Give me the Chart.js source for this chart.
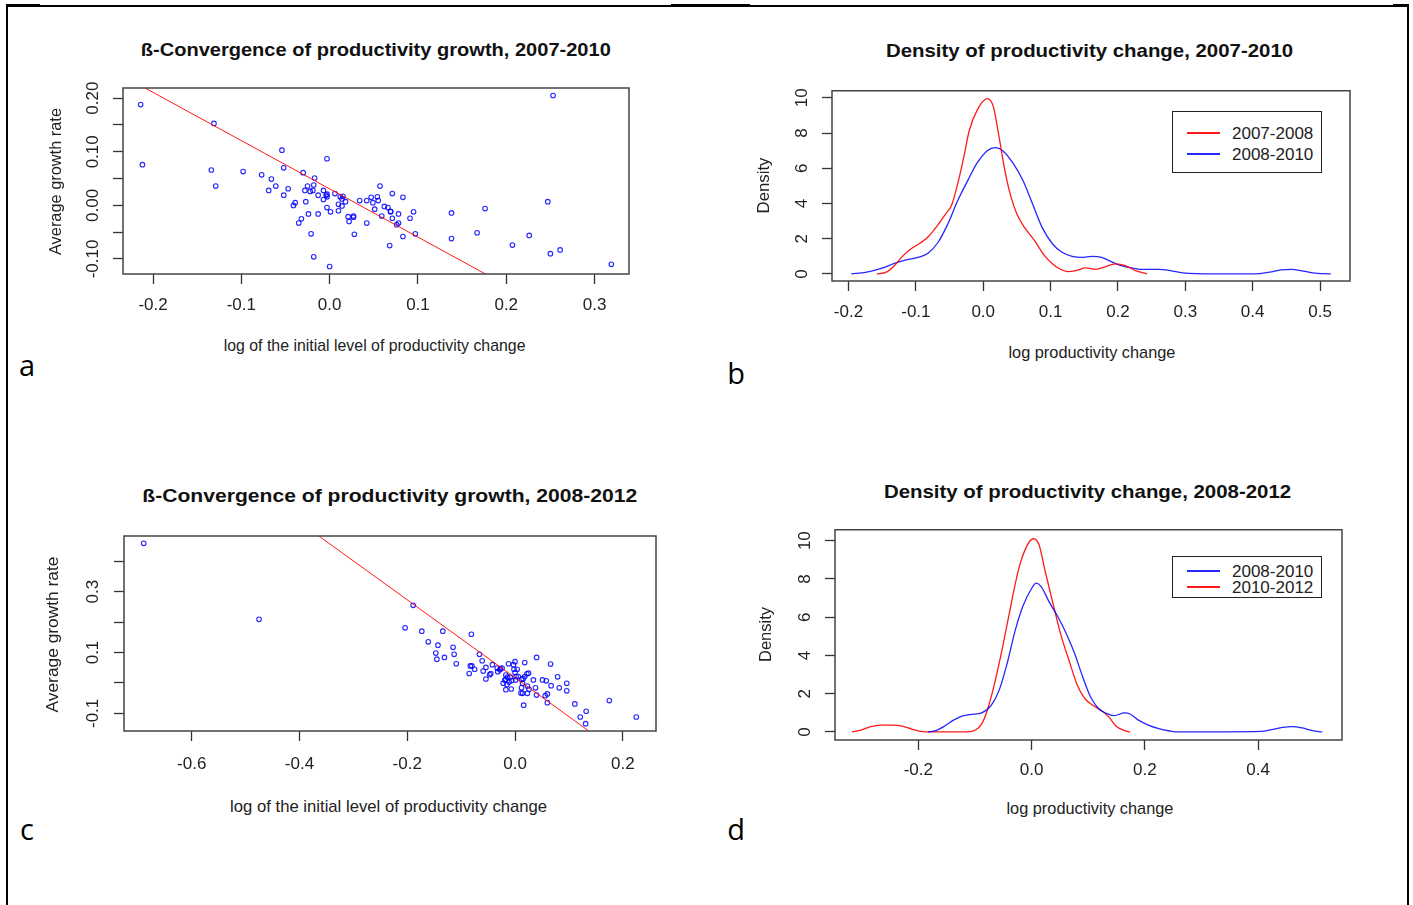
<!DOCTYPE html>
<html>
<head>
<meta charset="UTF-8" />
<title>Productivity convergence and density</title>
<style>
  html, body { margin: 0; padding: 0; background: #fff; }
  #page { position: relative; width: 1413px; height: 905px; overflow: hidden;
          font-family: "Liberation Sans", Arial, sans-serif; color: #222; }
  .frame { position: absolute; background: #000; }
  canvas { position: absolute; }
  .txt { position: absolute; white-space: nowrap; line-height: 1; transform-origin: 50% 50%; }
  .title { font-weight: bold; font-size: 19px; color: #111; }
  .axt { font-size: 17px; }
  .letter { font-family: "Open Sans", "Noto Sans", sans-serif; font-size: 29px; color: #000; }
  .legend { position: absolute; border: 1.5px solid #222; background: #fff; box-sizing: border-box; }
  .swatch { position: absolute; height: 1.4px; }
</style>
</head>
<body>
<div id="page">
  <div class="frame" style="left:6px;top:5px;width:1403px;height:1.5px"></div>
  <div class="frame" style="left:6px;top:4px;width:34px;height:3px"></div>
  <div class="frame" style="left:671px;top:4px;width:79px;height:3px"></div>
  <div class="frame" style="left:1393px;top:4px;width:16px;height:3px"></div>
  <div class="frame" style="left:6px;top:5px;width:2px;height:900px"></div>
  <div class="frame" style="left:1407px;top:5px;width:2px;height:900px"></div>
</div>
<script src="https://cdn.jsdelivr.net/npm/chart.js"></script>
<script>
// panel a: beta-convergence 2007-2010
const A_X = [-0.214,-0.212,-0.131,-0.134,-0.129,-0.098,-0.077,-0.066,-0.069,-0.061,
  -0.054,-0.052,-0.052,-0.047,-0.041,-0.039,-0.035,-0.032,-0.030,-0.028,
  -0.027,-0.025,-0.024,-0.022,-0.021,-0.019,-0.018,-0.017,-0.018,-0.013,
  -0.013,-0.007,-0.007,-0.004,-0.003,-0.003,-0.003,-0.003,0.000,0.001,
  0.006,0.010,0.010,0.012,0.014,0.015,0.014,0.018,0.021,0.022,
  0.027,0.027,0.028,0.034,0.042,0.042,0.047,0.049,0.051,0.054,
  0.055,0.057,0.059,0.062,0.066,0.068,0.069,0.069,0.071,0.071,
  0.076,0.078,0.078,0.083,0.083,0.091,0.095,0.097,0.138,0.138,
  0.167,0.176,0.207,0.226,0.247,0.250,0.253,0.261,0.319];
const A_Y = [0.188,0.076,0.153,0.066,0.036,0.063,0.057,0.049,0.028,0.036,
  0.103,0.070,0.019,0.031,0.000,0.005,-0.033,-0.025,0.061,0.028,
  0.007,0.036,-0.016,0.026,-0.053,0.028,0.038,0.051,-0.096,0.019,
  -0.016,0.028,0.011,0.019,0.087,0.021,0.016,-0.004,-0.114,-0.012,
  0.022,0.002,-0.010,0.016,0.012,0.017,-0.001,0.007,-0.021,-0.030,
  -0.020,-0.022,-0.054,0.009,0.009,-0.033,0.015,0.005,-0.007,0.016,
  0.009,0.036,-0.020,-0.002,-0.004,-0.075,-0.011,-0.012,0.022,-0.024,
  -0.036,-0.016,-0.033,0.015,-0.058,-0.024,-0.012,-0.053,-0.014,-0.062,
  -0.051,-0.006,-0.074,-0.056,0.007,-0.090,0.205,-0.083,-0.110];
const A_FIT_X = [-0.209, 0.1765];
const A_FIT_Y = [0.219, -0.128];
const A_XTICKS = [-0.2, -0.1, 0, 0.1, 0.2, 0.3];
const A_XLABELS = ['-0.2', '-0.1', '0.0', '0.1', '0.2', '0.3'];
const A_YTICKS = [-0.1, -0.05, 0, 0.05, 0.1, 0.15, 0.2];
const A_YLABELS = ['-0.10', '', '0.00', '', '0.10', '', '0.20'];

// panel b: density 2007-2010
const B_RED_X = [-0.158,-0.144,-0.132,-0.120,-0.108,-0.094,-0.082,-0.067,-0.056,-0.047,
  -0.038,-0.029,-0.021,-0.009,0.006,0.015,0.023,0.032,0.041,0.050,
  0.062,0.076,0.091,0.103,0.114,0.126,0.138,0.152,0.167,0.182,
  0.196,0.211,0.226,0.243];
const B_RED_Y = [0,0.1,0.47,1.0,1.4,1.74,2.1,2.8,3.4,3.9,
  5.1,6.6,8.1,9.3,9.95,9.5,7.9,5.9,4.4,3.4,
  2.6,1.9,1.04,0.57,0.28,0.13,0.19,0.34,0.26,0.42,
  0.57,0.47,0.19,0];
const B_BLUE_X = [-0.196,-0.173,-0.149,-0.132,-0.114,-0.097,-0.082,-0.067,-0.053,-0.038,
  -0.023,-0.009,0.006,0.018,0.029,0.044,0.059,0.073,0.088,0.103,
  0.117,0.132,0.146,0.161,0.176,0.190,0.205,0.220,0.237,0.261,
  0.278,0.296,0.343,0.401,0.425,0.442,0.457,0.472,0.489,0.516];
const B_BLUE_Y = [0,0.1,0.34,0.6,0.8,0.94,1.17,1.8,2.8,4.15,
  5.3,6.3,7.0,7.17,7.0,6.3,5.3,4.0,2.6,1.7,
  1.23,1.0,0.94,1.0,0.94,0.7,0.47,0.34,0.26,0.26,
  0.19,0.06,0,0,0.1,0.23,0.26,0.19,0.06,0];
const B_XTICKS = [-0.2, -0.1, 0, 0.1, 0.2, 0.3, 0.4, 0.5];
const B_XLABELS = ['-0.2', '-0.1', '0.0', '0.1', '0.2', '0.3', '0.4', '0.5'];
const B_YTICKS = [0, 2, 4, 6, 8, 10];
const B_YLABELS = ['0', '2', '4', '6', '8', '10'];

// panel c: beta-convergence 2008-2012
const C_X = [-0.689,-0.475,
  -0.189,-0.204,-0.173,-0.134,-0.081,-0.161,-0.143,-0.147,-0.115,-0.113,
  -0.145,-0.131,-0.109,-0.066,-0.061,-0.083,-0.080,-0.075,-0.085,-0.059,
  -0.054,-0.054,-0.047,-0.045,-0.042,-0.033,-0.032,-0.027,-0.028,-0.024,
  -0.022,-0.019,-0.017,-0.017,-0.015,-0.017,-0.012,-0.011,-0.009,-0.007,
  -0.006,-0.003,-0.002,0.000,0.000,0.002,0.004,0.001,0.006,0.011,
  0.012,0.014,0.015,0.014,0.016,0.018,0.018,0.022,0.025,0.023,
  0.026,0.023,0.034,0.038,0.040,0.040,0.051,0.058,0.056,0.060,
  0.066,0.067,0.060,0.079,0.082,0.096,0.096,0.111,0.121,0.132,
  0.131,0.175,0.225,0.012,-0.014];
const C_Y = [0.459,0.209,
  0.255,0.181,0.170,0.170,0.160,0.135,0.124,0.098,0.117,0.094,
  0.078,0.084,0.063,0.094,0.073,0.056,0.056,0.045,0.031,0.039,
  0.051,0.013,0.027,0.031,0.060,0.049,0.037,0.047,0.043,0.049,
  -0.001,0.009,0.026,0.012,-0.005,-0.022,0.063,0.003,0.019,-0.020,
  0.008,0.060,0.045,0.070,0.034,0.021,0.045,0.010,0.021,-0.033,
  -0.016,-0.001,0.014,-0.034,-0.073,0.067,0.021,0.030,0.032,-0.010,
  -0.021,-0.034,0.010,-0.016,0.084,-0.040,0.010,0.007,-0.042,-0.036,
  0.062,-0.009,-0.065,0.020,-0.016,-0.001,-0.026,-0.069,-0.112,-0.093,
  -0.134,-0.058,-0.112,0.012,0.019];
const C_FIT_X = [-0.364, 0.137];
const C_FIT_Y = [0.483, -0.158];
const C_XTICKS = [-0.6, -0.4, -0.2, 0, 0.2];
const C_XLABELS = ['-0.6', '-0.4', '-0.2', '0.0', '0.2'];
const C_YTICKS = [-0.1, 0, 0.1, 0.2, 0.3, 0.4];
const C_YLABELS = ['-0.1', '', '0.1', '', '0.3', ''];

// panel d: density 2008-2012
const D_BLUE_X = [-0.183,-0.169,-0.155,-0.137,-0.123,-0.106,-0.088,-0.071,-0.057,-0.043,
  -0.029,-0.015,0.000,0.008,0.017,0.031,0.045,0.062,0.076,0.090,
  0.104,0.118,0.132,0.146,0.164,0.174,0.188,0.206,0.223,0.244,
  0.258,0.405,0.426,0.443,0.461,0.478,0.496,0.513];
const D_BLUE_Y = [0,0.07,0.28,0.63,0.83,0.92,1.0,1.4,2.2,3.6,
  5.3,6.6,7.5,7.78,7.6,6.8,6.1,5.1,4.1,2.9,
  1.84,1.23,0.97,0.85,1.0,0.94,0.63,0.36,0.19,0.05,
  0,0.03,0.14,0.24,0.28,0.21,0.07,0];
const D_RED_X = [-0.317,-0.301,-0.284,-0.266,-0.245,-0.228,-0.210,-0.193,-0.169,-0.113,
  -0.099,-0.088,-0.078,-0.064,-0.050,-0.036,-0.022,-0.008,0.003,0.013,
  0.024,0.038,0.052,0.066,0.080,0.094,0.108,0.122,0.136,0.150,
  0.164,0.174];
const D_RED_Y = [0,0.1,0.28,0.36,0.36,0.31,0.14,0.02,0,0,
  0.1,0.42,1.15,2.7,4.6,6.7,8.6,9.74,10.1,9.8,
  8.4,6.7,5.05,3.75,2.5,1.75,1.4,1.15,0.8,0.28,
  0.07,0];
const D_XTICKS = [-0.2, 0, 0.2, 0.4];
const D_XLABELS = ['-0.2', '0.0', '0.2', '0.4'];
const D_YTICKS = [0, 2, 4, 6, 8, 10];
const D_YLABELS = ['0', '2', '4', '6', '8', '10'];

const FONT = '"Liberation Sans", Arial, sans-serif';
const RED = 'rgba(255,0,0,0.9)';
const BLUE = 'rgba(0,0,255,0.85)';
const page = document.getElementById('page');
const mctx = document.createElement('canvas').getContext('2d');

function textW(s, size) {
    mctx.font = size + 'px ' + FONT;
    return mctx.measureText(s).width;
}

function pts(xs, ys) {
    return xs.map((x, i) => ({ x: x, y: ys[i] }));
}

// R-like axis: ticks pointing out, labels at fixed distance from the box
function rAxis(pos, min, max, ticks, labels, size, gap) {
    const vertical = pos === 'left';
    const widest = Math.max(...labels.map(l => textW(l, 17)));
    const pad = vertical ? gap - 10 - widest / 2 : gap - 10 - 10.2;
    return {
        type: 'linear', position: pos, min: min, max: max,
        afterBuildTicks: s => { s.ticks = ticks.map(v => ({ value: v })); },
        afterFit: s => { if (vertical) s.width = size; else s.height = size; },
        grid: { display: true, drawOnChartArea: false, drawTicks: true, tickLength: 10,
                tickColor: '#333', tickWidth: 1.3 },
        border: { display: false },
        ticks: {
            autoSkip: false, padding: pad, color: '#222',
            font: { family: FONT, size: 17 },
            callback: (v, i) => labels[i],
            minRotation: vertical ? 90 : 0, maxRotation: vertical ? 90 : 0,
            crossAlign: vertical ? 'center' : 'near'
        }
    };
}

const boxPlugin = {
    id: 'rbox',
    afterDraw(chart) {
        const { ctx, chartArea: a } = chart;
        ctx.save();
        ctx.strokeStyle = '#444';
        ctx.lineWidth = 1.5;
        ctx.strokeRect(a.left, a.top, a.right - a.left, a.bottom - a.top);
        ctx.restore();
    }
};

function makePanel(o) {
    const L = 70, T = 20, R = 20, B = 50;
    const w = o.box.r - o.box.l + L + R, h = o.box.b - o.box.t + T + B;
    const cv = document.createElement('canvas');
    cv.width = w; cv.height = h;
    cv.style.left = (o.box.l - L) + 'px';
    cv.style.top = (o.box.t - T) + 'px';
    cv.style.width = w + 'px';
    cv.style.height = h + 'px';
    page.appendChild(cv);
    return new Chart(cv, {
        type: 'scatter',
        data: { datasets: o.datasets },
        options: {
            responsive: false, animation: false, devicePixelRatio: 1,
            layout: { padding: { top: T, right: R, left: 0, bottom: 0 } },
            plugins: { legend: { display: false }, tooltip: { enabled: false } },
            scales: {
                x: rAxis('bottom', o.x[0], o.x[1], o.xt, o.xl, B, o.gx),
                y: rAxis('left', o.y[0], o.y[1], o.yt, o.yl, L, o.gy)
            }
        },
        plugins: [boxPlugin]
    });
}

function scatterSet(xs, ys) {
    return { data: pts(xs, ys), pointStyle: 'circle', pointRadius: 2.3, borderWidth: 1.1,
             borderColor: BLUE, backgroundColor: 'rgba(0,0,0,0)', order: 2 };
}
function fitSet(xs, ys) {
    return { data: pts(xs, ys), showLine: true, pointRadius: 0, borderColor: RED,
             borderWidth: 1, order: 1 };
}
function densSet(label, xs, ys, color) {
    return { label: label, data: pts(xs, ys), showLine: true, pointRadius: 0,
             borderColor: color, borderWidth: 1.3, cubicInterpolationMode: 'monotone' };
}

const chartA = makePanel({
    box: { l: 123, t: 88, r: 629, b: 274 }, x: [-0.234, 0.339], y: [-0.128, 0.219],
    xt: A_XTICKS, xl: A_XLABELS, yt: A_YTICKS, yl: A_YLABELS, gx: 31.5, gy: 30,
    datasets: [scatterSet(A_X, A_Y), fitSet(A_FIT_X, A_FIT_Y)]
});
const chartB = makePanel({
    box: { l: 832, t: 90, r: 1350, b: 281 }, x: [-0.2245, 0.5445], y: [-0.4, 10.4],
    xt: B_XTICKS, xl: B_XLABELS, yt: B_YTICKS, yl: B_YLABELS, gx: 31, gy: 30,
    datasets: [densSet('2007-2008', B_RED_X, B_RED_Y, RED), densSet('2008-2010', B_BLUE_X, B_BLUE_Y, BLUE)]
});
const chartC = makePanel({
    box: { l: 124, t: 536, r: 656, b: 731 }, x: [-0.7256, 0.2616], y: [-0.158, 0.483],
    xt: C_XTICKS, xl: C_XLABELS, yt: C_YTICKS, yl: C_YLABELS, gx: 33, gy: 31,
    datasets: [scatterSet(C_X, C_Y), fitSet(C_FIT_X, C_FIT_Y)]
});
const chartD = makePanel({
    box: { l: 835, t: 529, r: 1342, b: 740 }, x: [-0.347, 0.548], y: [-0.42, 10.57],
    xt: D_XTICKS, xl: D_XLABELS, yt: D_YTICKS, yl: D_YLABELS, gx: 30, gy: 30,
    datasets: [densSet('2008-2010', D_BLUE_X, D_BLUE_Y, BLUE), densSet('2010-2012', D_RED_X, D_RED_Y, RED)]
});

function putText(str, cx, cy, cls, target, vertical) {
    const el = document.createElement('div');
    el.className = 'txt ' + cls;
    el.textContent = str;
    page.appendChild(el);
    const r = el.getBoundingClientRect();
    el.style.left = (cx - r.width / 2) + 'px';
    el.style.top = (cy - r.height / 2) + 'px';
    const s = target ? target / r.width : 1;
    el.style.transform = (vertical ? 'rotate(-90deg) ' : '') + 'scaleX(' + s.toFixed(3) + ')';
}

// legend built from the chart's own datasets
function legend(chart, box, rowsY) {
    const lg = document.createElement('div');
    lg.className = 'legend';
    lg.style.left = box.l + 'px'; lg.style.top = box.t + 'px';
    lg.style.width = (box.r - box.l) + 'px'; lg.style.height = (box.b - box.t) + 'px';
    page.appendChild(lg);
    chart.data.datasets.forEach((ds, i) => {
        const sw = document.createElement('div');
        sw.className = 'swatch';
        sw.style.background = ds.borderColor;
        sw.style.left = '1187px'; sw.style.width = '33px';
        sw.style.top = (rowsY[i] - 0.7) + 'px';
        page.appendChild(sw);
        const t = document.createElement('div');
        t.className = 'txt axt';
        t.textContent = ds.label;
        page.appendChild(t);
        const r = t.getBoundingClientRect();
        t.style.left = '1232px';
        t.style.top = (rowsY[i] - r.height / 2) + 'px';
    });
}

legend(chartB, { l: 1172, t: 111, r: 1322, b: 173 }, [133, 154]);
legend(chartD, { l: 1172, t: 556, r: 1322, b: 598 }, [571, 587]);

putText('ß-Convergence of productivity growth, 2007-2010', 376, 49, 'title', 470);
putText('Density of productivity change, 2007-2010', 1090, 50, 'title', 407);
putText('ß-Convergence of productivity growth, 2008-2012', 390, 495, 'title', 495);
putText('Density of productivity change, 2008-2012', 1088, 491, 'title', 407);

putText('log of the initial level of productivity change', 375, 345, 'axt', 302);
putText('log productivity change', 1092, 352, 'axt', 167);
putText('log of the initial level of productivity change', 389, 806, 'axt', 317);
putText('log productivity change', 1090, 808, 'axt', 167);

putText('Average growth rate', 55, 181, 'axt', 147, true);
putText('Density', 763, 185, 'axt', 56, true);
putText('Average growth rate', 52, 634, 'axt', 156, true);
putText('Density', 765, 634, 'axt', 55, true);

putText('a', 27, 364, 'letter');
putText('b', 736, 372, 'letter');
putText('c', 27, 828, 'letter');
putText('d', 736, 828, 'letter');
</script>
</body>
</html>
